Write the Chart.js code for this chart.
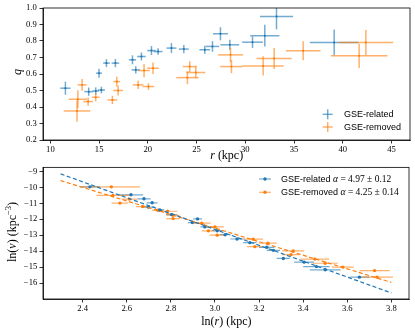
<!DOCTYPE html>
<html><head><meta charset="utf-8">
<script src="https://cdn.jsdelivr.net/npm/chart.js@4/dist/chart.umd.min.js"></script>
<style>
html,body{margin:0;padding:0;background:#fff;}
#wrap{position:relative;width:415px;height:334px;overflow:hidden;}
#c1{position:absolute;left:0;top:0;}
#c2{position:absolute;left:0;top:160px;}
</style></head><body>
<div id="wrap"><canvas id="c1" width="415" height="170"></canvas><canvas id="c2" width="415" height="174"></canvas></div>
<script>
// ---------- data ----------
const seriesNames = ["GSE-related", "GSE-removed"];
const fitAlpha = ["4.97 \u00b1 0.12", "4.25 \u00b1 0.14"];

// top panel: q vs r
const topBlueR    = [11.54,13.93,14.65,15.23,14.99,15.75,16.67,18.42,18.76,19.34,20.37,21.05,22.42,23.69,25.84,26.63,27.45,28.41,30.74,32.0,33.2,39.12];
const topBlueRErr = [0.53,0.46,0.34,0.37,0.3,0.34,0.39,0.37,0.43,0.44,0.44,0.46,0.51,0.51,0.55,0.68,0.77,0.96,1.06,1.5,1.7,2.5];
const topBlueQ    = [0.514,0.493,0.497,0.503,0.605,0.666,0.666,0.686,0.625,0.706,0.742,0.736,0.757,0.751,0.747,0.767,0.844,0.777,0.793,0.832,0.949,0.791];
const topBlueQErr = [0.04,0.025,0.022,0.02,0.027,0.024,0.025,0.027,0.022,0.024,0.027,0.02,0.03,0.025,0.024,0.032,0.04,0.03,0.035,0.066,0.079,0.078];

const topOrangeR    = [12.73,12.82,13.25,13.87,14.65,16.36,16.81,16.95,19.0,20.06,19.61,20.53,24.3,24.92,24.06,28.48,28.58,31.83,32.96,35.94,42.37,41.68];
const topOrangeRErr = [1.37,0.94,0.46,0.5,0.4,0.5,0.35,0.51,0.55,0.6,0.6,0.6,0.72,0.98,1.15,1.28,1.16,2.1,1.8,1.78,2.8,2.9];
const topOrangeQ    = [0.376,0.447,0.534,0.433,0.459,0.443,0.554,0.5,0.534,0.524,0.621,0.635,0.645,0.609,0.578,0.716,0.645,0.649,0.694,0.741,0.791,0.71];
const topOrangeQErr = [0.065,0.055,0.035,0.025,0.025,0.025,0.03,0.03,0.025,0.02,0.04,0.035,0.033,0.035,0.04,0.045,0.04,0.058,0.063,0.058,0.076,0.074];

// bottom panel: ln(nu) vs ln(r)
const botBlueLnR    = [2.433,2.619,2.678,2.715,2.697,2.75,2.803,2.921,2.897,2.954,3.01,3.046,3.10,3.158,3.235,3.265,3.31,3.404,3.46,3.50,3.655];
const botBlueLnRErr = [0.045,0.055,0.03,0.025,0.03,0.02,0.025,0.02,0.02,0.02,0.025,0.025,0.03,0.03,0.035,0.03,0.03,0.045,0.06,0.07,0.045];
const botBlueLnNu   = [-9.97,-10.47,-10.72,-10.97,-11.24,-11.42,-11.71,-11.98,-12.21,-12.48,-12.72,-12.97,-13.24,-13.47,-13.76,-13.95,-14.46,-14.69,-14.97,-15.17,-15.63];

const botOrangeLnR    = [2.53,2.537,2.569,2.612,2.672,2.74,2.785,2.81,2.81,2.94,2.97,3.0,3.01,3.173,3.181,3.24,3.355,3.345,3.453,3.5,3.58,3.724,3.735];
const botOrangeLnRErr = [0.13,0.075,0.038,0.035,0.03,0.025,0.045,0.03,0.03,0.04,0.03,0.04,0.035,0.045,0.035,0.04,0.05,0.04,0.064,0.057,0.05,0.068,0.072];
const botOrangeLnNu   = [-9.97,-10.51,-10.99,-10.74,-11.21,-11.44,-11.5,-11.75,-11.96,-12.25,-12.73,-12.48,-13.0,-13.25,-13.72,-13.5,-13.99,-14.22,-14.5,-14.76,-15.0,-15.22,-15.63];

// power-law fit lines (end points)
const fitLnR       = [2.3, 3.8];
const fitBlueLnNu  = [-9.16, -16.62];
const fitOrangeLnNu= [-9.58, -15.96];

// ticks
const topXTicks = [10,15,20,25,30,35,40,45];
const topXTickLabels = ["10","15","20","25","30","35","40","45"];
const topYTicks = [0.2,0.3,0.4,0.5,0.6,0.7,0.8,0.9,1.0];
const topYTickLabels = ["0.2","0.3","0.4","0.5","0.6","0.7","0.8","0.9","1.0"];
const botXTicks = [2.4,2.6,2.8,3.0,3.2,3.4,3.6,3.8];
const botXTickLabels = ["2.4","2.6","2.8","3.0","3.2","3.4","3.6","3.8"];
const botYTicks = [-16,-15,-14,-13,-12,-11,-10,-9];
const botYTickLabels = ["\u221216","\u221215","\u221214","\u221213","\u221212","\u221211","\u221210","\u22129"];

// ---------- styling ----------
const BLUE = "#1f77b4", ORANGE = "#ff7f0e";
const BLUE_A = "rgba(31,119,180,0.62)", ORANGE_A = "rgba(255,127,14,0.62)";
const SERIF = "'Liberation Serif', 'DejaVu Serif', serif";
const SANS = "'Liberation Sans', Arial, sans-serif";
const tickFont = {family: SERIF, size: 8.6};

const pairs = (xs, ys) => xs.map((x, i) => ({x: x, y: ys[i]}));

const errPlugin = {
  id: 'errbars',
  beforeDatasetsDraw(chart) {
    const ctx = chart.ctx, xs = chart.scales.x, ys = chart.scales.y;
    const a = chart.chartArea;
    ctx.save();
    ctx.beginPath(); ctx.rect(a.left, a.top, a.right - a.left, a.bottom - a.top); ctx.clip();
    chart.data.datasets.forEach(ds => {
      if (!ds.errX) return;
      ctx.strokeStyle = ds.errColor; ctx.lineWidth = ds.errWidth;
      ds.data.forEach((p, j) => {
        const px = xs.getPixelForValue(p.x), py = ys.getPixelForValue(p.y);
        ctx.beginPath();
        ctx.moveTo(xs.getPixelForValue(p.x - ds.errX[j]), py);
        ctx.lineTo(xs.getPixelForValue(p.x + ds.errX[j]), py);
        ctx.stroke();
        if (ds.errY) {
          ctx.beginPath();
          ctx.moveTo(px, ys.getPixelForValue(p.y - ds.errY[j]));
          ctx.lineTo(px, ys.getPixelForValue(p.y + ds.errY[j]));
          ctx.stroke();
        }
      });
    });
    ctx.restore();
  }
};

const boxPlugin = {
  id: 'box',
  afterDraw(chart) {
    const a = chart.chartArea, ctx = chart.ctx;
    ctx.save();
    ctx.strokeStyle = '#000'; ctx.lineWidth = 0.8;
    ctx.strokeRect(a.left, a.top, a.right - a.left, a.bottom - a.top);
    ctx.restore();
  }
};

function drawRich(ctx, parts, cx, cy, rot) {
  ctx.save();
  ctx.translate(cx, cy);
  if (rot) ctx.rotate(rot);
  ctx.textBaseline = 'middle'; ctx.textAlign = 'left'; ctx.fillStyle = '#000';
  let w = 0;
  parts.forEach(p => { ctx.font = p.font; p.w = ctx.measureText(p.t).width; w += p.w; });
  let x = -w / 2;
  parts.forEach(p => { ctx.font = p.font; ctx.fillText(p.t, x, p.dy || 0); x += p.w; });
  ctx.restore();
}

const LBL = "12px " + SERIF, LBLI = "italic 12px " + SERIF, SUP = "8.5px " + SERIF;

const topDecor = {
  id: 'topDecor',
  afterDraw(chart) {
    const ctx = chart.ctx;
    drawRich(ctx, [{t: 'q', font: LBLI}], 17.5, 72, -Math.PI / 2);
    drawRich(ctx, [{t: 'r', font: LBLI}, {t: ' (kpc)', font: LBL}], 226.7, 156, 0);
    // legend
    const cols = [BLUE_A, ORANGE_A], ys = [114.3, 127];
    ctx.save();
    ys.forEach((y, i) => {
      ctx.strokeStyle = cols[i]; ctx.lineWidth = 1.5;
      ctx.beginPath(); ctx.moveTo(322.7, y); ctx.lineTo(332.7, y); ctx.stroke();
      ctx.beginPath(); ctx.moveTo(327.7, y - 5); ctx.lineTo(327.7, y + 5); ctx.stroke();
      ctx.font = "9px " + SANS; ctx.fillStyle = '#000'; ctx.textBaseline = 'middle'; ctx.textAlign = 'left';
      ctx.fillText(seriesNames[i], 344, y + 0.5);
    });
    ctx.restore();
  }
};

const botDecor = {
  id: 'botDecor',
  afterDraw(chart) {
    const ctx = chart.ctx;
    drawRich(ctx, [
      {t: 'ln(', font: LBL}, {t: '\u03bd', font: LBLI}, {t: ') (kpc', font: LBL},
      {t: '\u22123', font: SUP, dy: -4}, {t: ')', font: LBL}], 12.5, 72, -Math.PI / 2);
    drawRich(ctx, [{t: 'ln(', font: LBL}, {t: 'r', font: LBLI}, {t: ') (kpc)', font: LBL}], 226.3, 161.5, 0);
    // legend
    const cols = [BLUE, ORANGE], ecols = [BLUE_A, ORANGE_A], ys = [19, 32.3];
    ctx.save();
    ys.forEach((y, i) => {
      ctx.strokeStyle = ecols[i]; ctx.lineWidth = 1.2;
      ctx.beginPath(); ctx.moveTo(259, y); ctx.lineTo(271, y); ctx.stroke();
      ctx.fillStyle = cols[i];
      ctx.beginPath(); ctx.arc(265, y, 1.7, 0, Math.PI * 2); ctx.fill();
      ctx.fillStyle = '#000'; ctx.textBaseline = 'middle'; ctx.textAlign = 'left';
      ctx.font = "9px " + SANS;
      ctx.fillText(seriesNames[i], 281, y + 0.5);
      let x = 281 + ctx.measureText(seriesNames[i]).width + 2.5;
      ctx.font = "italic 9.5px " + SERIF;
      ctx.fillText('\u03b1', x, y + 0.5);
      x += ctx.measureText('\u03b1').width;
      ctx.font = "9.5px " + SERIF;
      ctx.fillText(' = ' + fitAlpha[i], x, y + 0.5);
    });
    ctx.restore();
  }
};

function axis(min, max, ticks, labels, size, isX, pad) {
  return {
    type: 'linear', min: min, max: max,
    afterBuildTicks: s => { s.ticks = ticks.map(v => ({value: v})); },
    afterFit: s => { if (isX) s.height = size; else s.width = size; },
    ticks: {font: tickFont, color: '#000', padding: pad, maxRotation: 0, autoSkip: false,
            callback: (v, i) => labels[i]},
    grid: {drawOnChartArea: false, drawTicks: true, tickLength: 3.5, color: '#000', lineWidth: 0.8},
    border: {display: true, color: '#000', width: 0.8}
  };
}

const common = {
  responsive: false, animation: false, devicePixelRatio: 1,
  plugins: {legend: {display: false}, tooltip: {enabled: false}}
};

new Chart(document.getElementById('c1'), {
  type: 'scatter',
  data: {datasets: [
    {label: seriesNames[0], data: pairs(topBlueR, topBlueQ), errX: topBlueRErr, errY: topBlueQErr,
     errColor: BLUE_A, errWidth: 1.5, backgroundColor: BLUE, borderColor: BLUE, pointRadius: 1, borderWidth: 0},
    {label: seriesNames[1], data: pairs(topOrangeR, topOrangeQ), errX: topOrangeRErr, errY: topOrangeQErr,
     errColor: ORANGE_A, errWidth: 1.5, backgroundColor: ORANGE, borderColor: ORANGE, pointRadius: 1, borderWidth: 0}
  ]},
  options: Object.assign({}, common, {
    layout: {padding: {left: 0, right: 5, top: 8, bottom: 0}},
    scales: {
      x: axis(9.24, 46.9, topXTicks, topXTickLabels, 30, true, 1),
      y: axis(0.2, 1.0, topYTicks, topYTickLabels, 43, false, 2.8)
    }
  }),
  plugins: [errPlugin, boxPlugin, topDecor]
});

new Chart(document.getElementById('c2'), {
  type: 'scatter',
  data: {datasets: [
    {label: 'fit ' + seriesNames[0], data: pairs(fitLnR, fitBlueLnNu), showLine: true, pointRadius: 0,
     borderColor: BLUE, borderWidth: 1.2, borderDash: [4, 2.5], fill: false},
    {label: 'fit ' + seriesNames[1], data: pairs(fitLnR, fitOrangeLnNu), showLine: true, pointRadius: 0,
     borderColor: ORANGE, borderWidth: 1.2, borderDash: [4, 2.5], fill: false},
    {label: seriesNames[0], data: pairs(botBlueLnR, botBlueLnNu), errX: botBlueLnRErr,
     errColor: BLUE_A, errWidth: 1.2, backgroundColor: BLUE, borderColor: BLUE, pointRadius: 1.7, borderWidth: 0},
    {label: seriesNames[1], data: pairs(botOrangeLnR, botOrangeLnNu), errX: botOrangeLnRErr,
     errColor: ORANGE_A, errWidth: 1.2, backgroundColor: ORANGE, borderColor: ORANGE, pointRadius: 1.7, borderWidth: 0}
  ]},
  options: Object.assign({}, common, {
    layout: {padding: {left: 0, right: 6, top: 7, bottom: 0}},
    scales: {
      x: axis(2.22, 3.88, botXTicks, botXTickLabels, 35, true, 1),
      y: axis(-17.0, -8.75, botYTicks, botYTickLabels, 43, false, 2.2)
    }
  }),
  plugins: [errPlugin, boxPlugin, botDecor]
});
</script>
</body></html>
